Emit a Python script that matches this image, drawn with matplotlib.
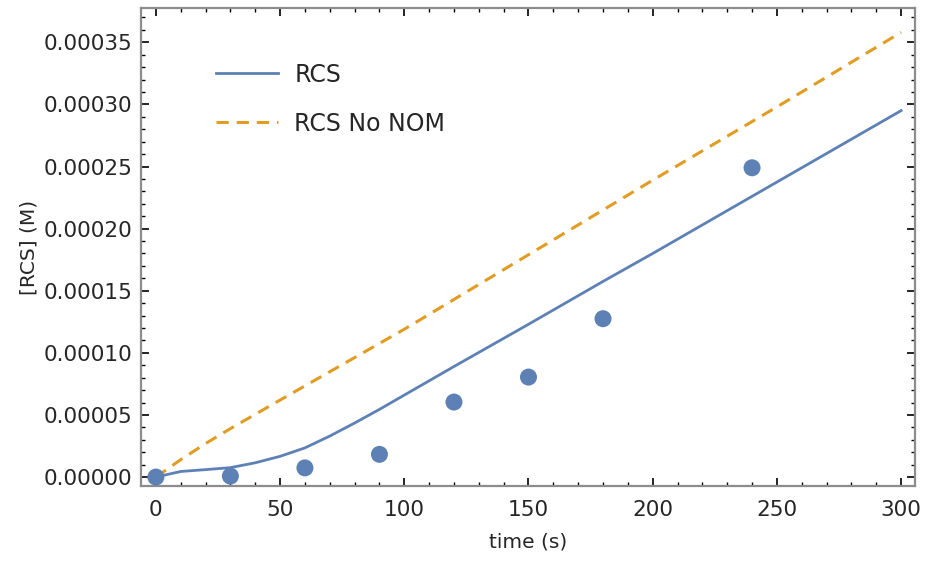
import matplotlib

matplotlib.use("Agg")
import matplotlib.pyplot as plt
from matplotlib.ticker import MultipleLocator, FormatStrFormatter

# model curves
model_t = [0, 10, 20, 30, 40, 50, 60, 70, 80, 90, 100, 120, 150, 180, 200, 240, 270, 300]
rcs_model = [0.0, 4.5e-6, 6.0e-6, 7.6e-6, 1.15e-5, 1.67e-5, 2.35e-5, 3.3e-5, 4.35e-5,
             5.45e-5, 6.6e-5, 8.9e-5, 1.23e-4, 1.575e-4, 1.80e-4, 2.26e-4, 2.605e-4, 2.95e-4]
nonom_t = [0, 10, 20, 30, 40, 50, 100, 150, 200, 250, 300]
rcs_no_nom = [0.0, 1.4e-5, 2.7e-5, 3.9e-5, 5.05e-5, 6.2e-5, 1.19e-4, 1.79e-4, 2.39e-4,
              2.98e-4, 3.58e-4]

# measured
meas_t = [0, 30, 60, 90, 120, 150, 180, 240]
meas_rcs = [0.0, 8e-7, 7.4e-6, 1.83e-5, 6.04e-5, 8.05e-5, 1.275e-4, 2.49e-4]

BLUE = "#5E81B5"
ORANGE = "#E19C24"
FRAME = "#8c8c8c"
TEXT = "#262626"

fig = plt.figure(figsize=(9.25, 5.62), dpi=100, facecolor="white")
ax = fig.add_axes([0.1524, 0.1352, 0.8368, 0.8505])

ax.plot(model_t, rcs_model, color=BLUE, lw=2.0, label="RCS", zorder=3)
ax.plot(nonom_t, rcs_no_nom, color=ORANGE, lw=2.2, ls=(0, (4, 2.6)), label="RCS No NOM", zorder=3)
ax.scatter(meas_t, meas_rcs, s=150, color=BLUE, edgecolors="none", zorder=4)

ax.set_xlim(-6, 305.6)
ax.set_ylim(-7.2e-6, 3.776e-4)

ax.xaxis.set_major_locator(MultipleLocator(50))
ax.xaxis.set_minor_locator(MultipleLocator(10))
ax.yaxis.set_major_locator(MultipleLocator(5e-5))
ax.yaxis.set_minor_locator(MultipleLocator(1e-5))
ax.yaxis.set_major_formatter(FormatStrFormatter("%.5f"))

for side in ax.spines.values():
    side.set_color(FRAME)
    side.set_linewidth(1.6)

ax.tick_params(which="both", direction="in", top=True, right=True, color="black",
               labelcolor=TEXT, labelsize=15.6)
ax.tick_params(which="major", length=6, width=1.2)
ax.tick_params(which="minor", length=3, width=1.0)
ax.tick_params(axis="x", which="major", pad=10)
ax.tick_params(axis="y", which="major", pad=6)

ax.set_xlabel("time (s)", fontsize=14.5, color=TEXT, labelpad=9)
ax.set_ylabel("[RCS] (M)", fontsize=14.5, color=TEXT, labelpad=4)

leg = ax.legend(loc="upper left", bbox_to_anchor=(0.07, 0.93), frameon=False,
                fontsize=17, handlelength=2.6, handletextpad=0.7, labelspacing=1.05)
for txt in leg.get_texts():
    txt.set_color(TEXT)

fig.savefig("out.png", dpi=100, facecolor=fig.get_facecolor())
